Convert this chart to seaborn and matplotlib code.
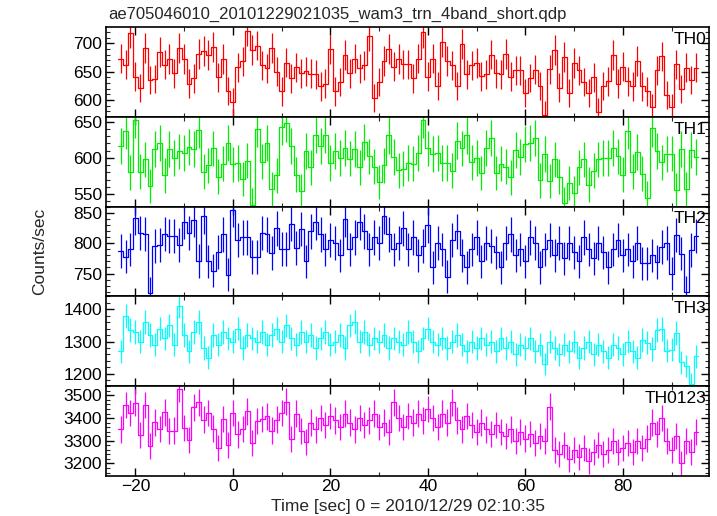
import numpy as np
import pandas as pd
import matplotlib
matplotlib.use("Agg")
import matplotlib.pyplot as plt
import seaborn as sns
from matplotlib.ticker import MultipleLocator

# ---------------- data ----------------
title_text = "ae705046010_20101229021035_wam3_trn_4band_short.qdp"
xlabel_text = "Time [sec] 0 = 2010/12/29 02:10:35"
ylabel_text = "Counts/sec"
band_names = ["TH0", "TH1", "TH2", "TH3", "TH0123"]

time_centers = np.arange(-23, 96)  # 1-s bins, centre times [sec]

th0 = [673, 662, 718, 641, 621, 691, 635, 637, 684, 662,
       672, 647, 692, 672, 629, 638, 681, 686, 679, 693,
       640, 672, 616, 597, 658, 668, 722, 688, 696, 661,
       656, 691, 650, 615, 666, 638, 658, 647, 651, 646,
       645, 624, 629, 689, 615, 632, 679, 647, 673, 656,
       661, 713, 604, 632, 669, 690, 659, 672, 663, 663,
       638, 673, 719, 641, 673, 625, 702, 669, 661, 625,
       698, 645, 661, 665, 642, 645, 680, 647, 645, 681,
       641, 652, 652, 613, 639, 653, 625, 574, 654, 688,
       622, 676, 612, 665, 652, 632, 612, 640, 579, 625,
       633, 679, 629, 659, 633, 624, 669, 624, 615, 587,
       652, 677, 608, 587, 663, 619, 657, 635, 657]

th1 = [617, 637, 580, 653, 581, 598, 561, 612, 621, 576,
       612, 600, 609, 607, 615, 612, 639, 581, 590, 613,
       574, 592, 621, 591, 593, 571, 596, 535, 640, 595,
       620, 557, 576, 643, 648, 616, 577, 554, 610, 587,
       632, 616, 632, 593, 610, 600, 614, 599, 612, 587,
       622, 602, 588, 567, 590, 631, 601, 583, 585, 593,
       592, 607, 653, 613, 605, 607, 593, 593, 582, 624,
       613, 631, 594, 600, 579, 614, 627, 579, 592, 588,
       573, 611, 601, 619, 621, 628, 569, 605, 568, 598,
       574, 537, 565, 551, 587, 598, 563, 582, 598, 600,
       600, 614, 602, 577, 637, 581, 608, 578, 545, 641,
       610, 594, 605, 606, 555, 612, 557, 611, 601]

th2 = [787, 778, 790, 843, 817, 816, 717, 795, 797, 816,
       812, 812, 797, 836, 817, 839, 771, 845, 770, 755,
       786, 815, 748, 856, 805, 810, 810, 777, 777, 817,
       815, 784, 825, 791, 791, 833, 792, 824, 770, 820,
       835, 815, 790, 805, 800, 780, 840, 790, 810, 835,
       820, 790, 810, 800, 845, 815, 790, 800, 825, 790,
       810, 780, 795, 830, 760, 800, 790, 745, 805, 820,
       780, 760, 790, 810, 770, 800, 795, 785, 760, 800,
       815, 780, 790, 770, 810, 800, 760, 790, 805, 780,
       800, 775, 800, 785, 770, 810, 790, 775, 800, 785,
       760, 790, 805, 780, 790, 770, 800, 767, 767, 780,
       769, 794, 800, 750, 814, 783, 719, 789, 812]

th3 = [1270, 1380, 1335, 1330, 1300, 1360, 1320, 1290, 1340, 1310,
       1350, 1290, 1410, 1320, 1270, 1330, 1360, 1280, 1250, 1320,
       1290, 1330, 1310, 1300, 1340, 1280, 1320, 1310, 1300, 1330,
       1290, 1320, 1340, 1300, 1350, 1310, 1290, 1330, 1300, 1320,
       1280, 1310, 1330, 1290, 1300, 1320, 1280, 1350, 1360, 1300,
       1330, 1290, 1310, 1300, 1320, 1280, 1310, 1300, 1290, 1330,
       1300, 1270, 1310, 1340, 1300, 1290, 1310, 1280, 1300, 1320,
       1290, 1270, 1300, 1280, 1310, 1290, 1300, 1270, 1310, 1280,
       1300, 1260, 1290, 1280, 1310, 1270, 1290, 1230, 1300, 1280,
       1260, 1290, 1270, 1300, 1250, 1280, 1300, 1260, 1290, 1270,
       1250, 1290, 1280, 1260, 1300, 1270, 1250, 1305, 1297, 1277,
       1336, 1338, 1272, 1275, 1326, 1236, 1224, 1168, 1254]

th0123 = [3350, 3458, 3422, 3468, 3324, 3458, 3275, 3381, 3352, 3425,
          3342, 3345, 3530, 3357, 3302, 3448, 3469, 3393, 3422, 3354,
          3270, 3396, 3282, 3422, 3328, 3352, 3429, 3292, 3386, 3396,
          3407, 3345, 3393, 3422, 3472, 3309, 3419, 3342, 3295, 3380,
          3350, 3400, 3370, 3410, 3390, 3360, 3420, 3380, 3350, 3400,
          3370, 3390, 3420, 3360, 3380, 3340, 3470, 3400, 3360, 3410,
          3380, 3420, 3390, 3440, 3400, 3360, 3420, 3380, 3470, 3390,
          3350, 3410, 3370, 3340, 3380, 3350, 3330, 3370, 3340, 3320,
          3350, 3300, 3340, 3310, 3330, 3290, 3320, 3300, 3450, 3260,
          3240, 3280, 3220, 3260, 3230, 3270, 3210, 3250, 3280, 3240,
          3260, 3300, 3250, 3270, 3290, 3250, 3300, 3270, 3310, 3380,
          3330, 3400, 3300, 3260, 3320, 3200, 3300, 3250, 3340]

series = [th0, th1, th2, th3, th0123]
colors = ["#ff0000", "#00ee00", "#0000ff", "#00ffff", "#ff00ff"]
ylims = [(570, 728), (532.5, 656.5), (712, 861), (1162, 1440), (3146, 3541)]
y_major = [50, 50, 50, 100, 100]
y_minor = [10, 10, 10, 20, 20]

# ---------------- plot ----------------
sns.set_theme(style="ticks")
plt.rcParams["font.family"] = ["Liberation Sans", "DejaVu Sans"]

fig, axes = plt.subplots(5, 1, figsize=(7.17, 5.16), dpi=100, sharex=True)
fig.subplots_adjust(left=0.148, right=0.989, top=0.947, bottom=0.078, hspace=0)

for i, (ax, vals, col) in enumerate(zip(axes, series, colors)):
    vals = np.asarray(vals, dtype=float)
    edges = np.append(time_centers - 0.5, time_centers[-1] + 0.5)
    df = pd.DataFrame({"t": edges, "v": np.append(vals, vals[-1])})
    sns.lineplot(data=df, x="t", y="v", ax=ax, color=col, lw=0.9,
                 drawstyle="steps-post", estimator=None, sort=False, legend=False)
    ax.errorbar(time_centers, vals, yerr=np.sqrt(vals), fmt="none",
                ecolor=col, elinewidth=0.9, capsize=0)
    ax.set_xlim(-26, 97.7)
    ax.set_ylim(*ylims[i])
    ax.yaxis.set_major_locator(MultipleLocator(y_major[i]))
    ax.yaxis.set_minor_locator(MultipleLocator(y_minor[i]))
    ax.xaxis.set_major_locator(MultipleLocator(20))
    ax.xaxis.set_minor_locator(MultipleLocator(10))
    ax.tick_params(axis="both", which="major", direction="in", length=6,
                   width=1.0, top=True, right=True, labelsize=12.5, colors="black")
    ax.tick_params(axis="both", which="minor", direction="in", length=3,
                   width=0.8, top=True, right=True)
    ax.tick_params(axis="y", pad=3)
    for s in ax.spines.values():
        s.set_linewidth(1.2)
        s.set_color("black")
    ax.set_xlabel("")
    ax.set_ylabel("")
    ax.text(0.995, 0.95, band_names[i], transform=ax.transAxes, ha="right",
            va="top", fontsize=12.5, color="black")
    if i < 4:
        ax.tick_params(labelbottom=False)

axes[-1].tick_params(axis="x", pad=2)
fig.text(108 / 717, 1 - 14 / 516, title_text, ha="left", va="center", fontsize=12)
fig.text(0.5 * (0.148 + 0.989), 1 - 507 / 516, xlabel_text, ha="center",
         va="center", fontsize=12.5)
fig.text(40 / 717, 0.5 * (0.947 + 0.078), ylabel_text, ha="center", va="center",
         rotation=90, fontsize=12.5)

fig.savefig("out.png", dpi=100)
